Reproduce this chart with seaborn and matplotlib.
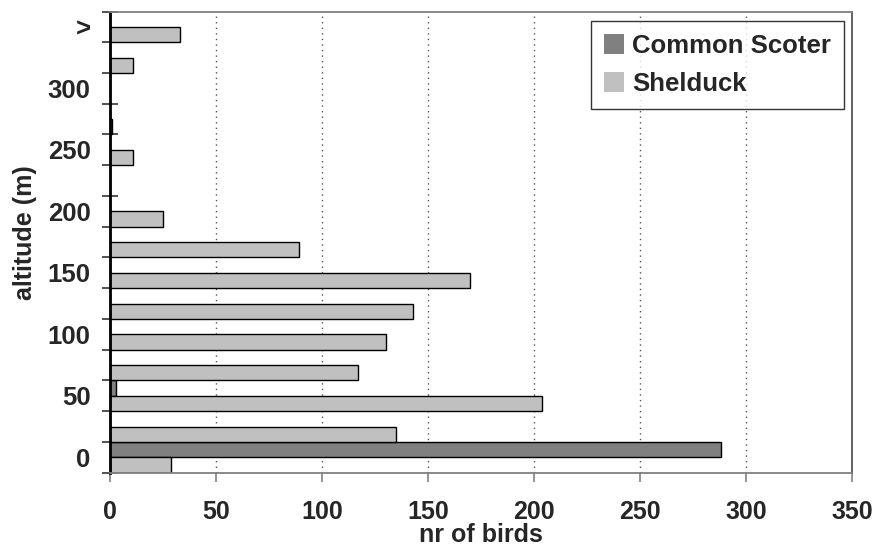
import matplotlib
matplotlib.use("Agg")
import matplotlib.pyplot as plt
import seaborn as sns
import pandas as pd
import numpy as np
from matplotlib.patches import Patch
from matplotlib.ticker import FixedLocator, NullFormatter

# ---- data (bottom to top) ----
categories = ["0", "25", "50", "75", "100", "125", "150", "175", "200",
              "225", "250", "275", "300", "325", ">"]
common_scoter = [288, 0, 3, 0, 0, 0, 0, 0, 0, 0, 0, 0, 0, 0, 0]
shelduck = [29, 135, 204, 117, 130, 143, 170, 89, 25, 0, 11, 1, 0, 11, 33]
series_names = ["Common Scoter", "Shelduck"]
series_colors = ["#808080", "#c0c0c0"]
x_ticks = [0, 50, 100, 150, 200, 250, 300, 350]

df = pd.DataFrame({
    "altitude": categories * 2,
    "species": [series_names[0]] * len(categories) + [series_names[1]] * len(categories),
    "birds": common_scoter + shelduck,
})

sns.set_style("white")
plt.rcParams["font.family"] = ["Liberation Sans", "DejaVu Sans"]
plt.rcParams["font.weight"] = "bold"

fig = plt.figure(figsize=(8.78, 5.5), dpi=100)
ax = fig.add_axes([110 / 878, 1 - 472.7 / 550, 742 / 878, 461.2 / 550])

order = categories[::-1]
sns.barplot(data=df, y="altitude", x="birds", hue="species", order=order,
            hue_order=series_names, palette=series_colors, orient="h",
            width=1.0, edgecolor="black", linewidth=1.0, saturation=1,
            legend=False, ax=ax)

ax.set_xlim(0, 350)
ax.set_ylim(len(categories) - 0.5, -0.5)

# x axis
ax.set_xticks(x_ticks)
ax.set_xticklabels([str(v) for v in x_ticks], fontsize=18, fontweight="bold")
ax.tick_params(axis="x", direction="out", length=6.5, width=1.2, color="#808080",
               pad=13.5, bottom=True)
for v in x_ticks[1:-1]:
    ax.axvline(v, color="#555555", linestyle=(0, (1, 3)), linewidth=1.0, zorder=0)

# y axis: labels every other category, tick marks at bin boundaries
lab_pos = [i for i, c in enumerate(order) if (len(order) - 1 - i) % 2 == 0]
ax.set_yticks(lab_pos)
ax.set_yticklabels([order[i] for i in lab_pos], fontsize=18.5, fontweight="bold")
ax.tick_params(axis="y", which="major", length=0, pad=14, left=True)
ax.yaxis.set_minor_locator(FixedLocator(np.arange(-0.5, len(order), 1.0)))
ax.yaxis.set_minor_formatter(NullFormatter())
ax.tick_params(axis="y", which="minor", direction="inout", length=11.5,
               width=1.2, color="#333333", left=True)

ax.set_xlabel("nr of birds", fontsize=18, fontweight="bold", labelpad=-1)
ax.set_ylabel("altitude (m)", fontsize=18, fontweight="bold")
ax.yaxis.set_label_coords(-0.098, 0.52)

# spines
for s in ["top", "right", "bottom"]:
    ax.spines[s].set_visible(True)
    ax.spines[s].set_color("#808080")
    ax.spines[s].set_linewidth(1.3)
ax.spines["right"].set_color("#555555")
ax.spines["left"].set_color("black")
ax.spines["left"].set_linewidth(2.0)
ax.grid(False)

handles = [Patch(facecolor=c, edgecolor="none", label=n)
           for n, c in zip(series_names, series_colors)]
leg = ax.legend(handles=handles, loc="upper right", bbox_to_anchor=(0.989, 0.979),
                borderaxespad=0, frameon=True, fancybox=False,
                edgecolor="black", borderpad=0.5, labelspacing=0.55,
                handlelength=0.8, handleheight=0.8, handletextpad=0.3,
                prop={"weight": "bold", "size": 18.5})
leg.get_frame().set_linewidth(1.0)

fig.savefig("out.png", dpi=100)
